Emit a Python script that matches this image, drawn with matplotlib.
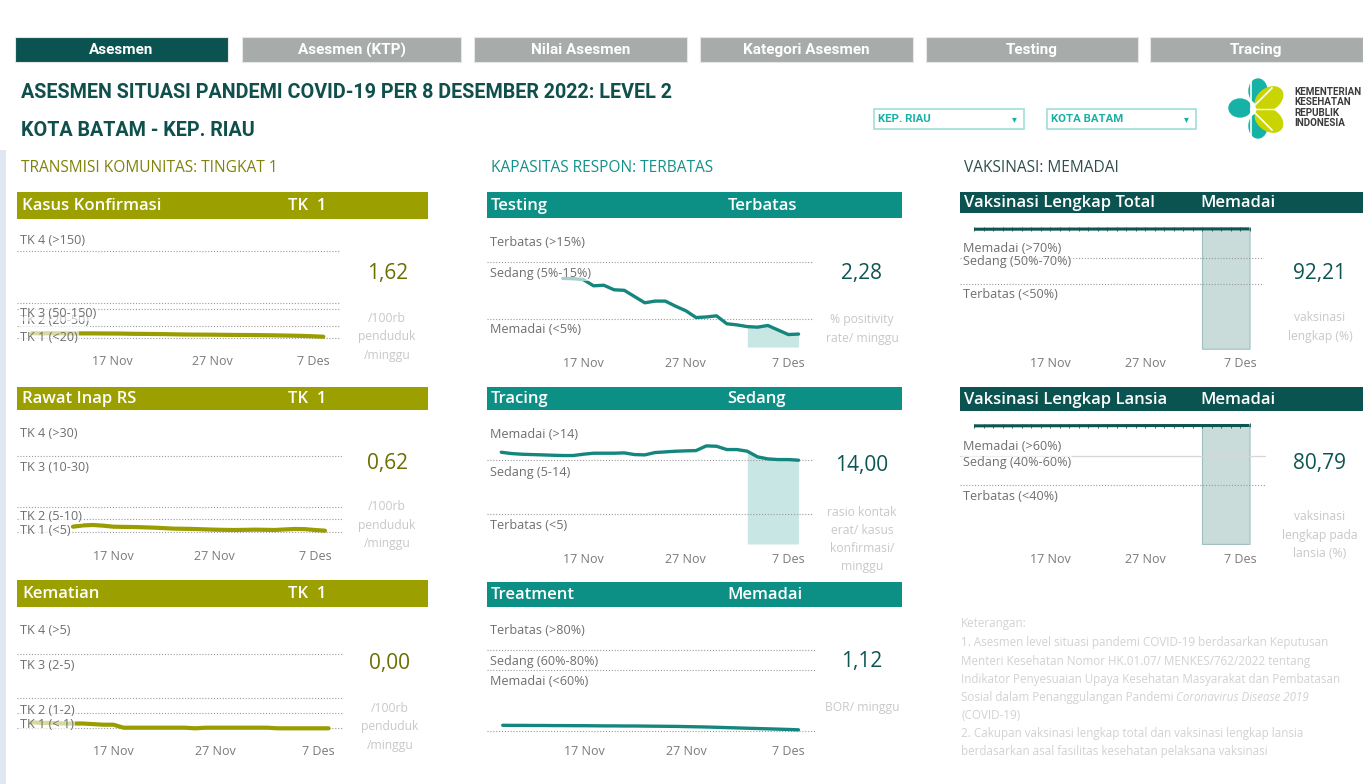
import numpy as np
import matplotlib
matplotlib.use("Agg")
import matplotlib.pyplot as plt
from matplotlib.patches import Rectangle, Ellipse

plt.rcParams['font.family'] = ['Open Sans', 'DejaVu Sans']

# ------------------------------------------------------------------ data
tabs = ["Asesmen", "Asesmen (KTP)", "Nilai Asesmen", "Kategori Asesmen", "Testing", "Tracing"]
title = "ASESMEN SITUASI PANDEMI COVID-19 PER 8 DESEMBER 2022: LEVEL 2"
subtitle = "KOTA BATAM - KEP. RIAU"
province = "KEP. RIAU"
city = "KOTA BATAM"
section_titles = ["TRANSMISI KOMUNITAS: TINGKAT 1", "KAPASITAS RESPON: TERBATAS", "VAKSINASI: MEMADAI"]
tick_days = [0, 10, 20]            # days after 17 Nov 2022
tick_labels = ["17 Nov", "27 Nov", "7 Des"]

kasus_days = list(range(-8, 22))
kasus_vals = [3.05, 3.02, 3.04, 3.00, 3.01, 2.98, 2.99, 2.95, 2.93, 2.90, 2.82, 2.78, 2.74, 2.70, 2.62,
              2.55, 2.50, 2.47, 2.45, 2.40, 2.36, 2.33, 2.30, 2.25, 2.20, 2.12, 2.05, 1.95, 1.80, 1.62]

rawat_days = list(range(-4, 22))
rawat_vals = [1.21, 1.40, 1.46, 1.36, 1.21, 1.18, 1.16, 1.12, 1.07, 1.00, 0.92, 0.90, 0.87, 0.82, 0.77,
              0.74, 0.72, 0.74, 0.77, 0.75, 0.72, 0.80, 0.87, 0.85, 0.72, 0.62]

kematian_days = list(range(-8, 22))
kematian_vals = [0.10, 0.09, 0.09, 0.08, 0.08, 0.08, 0.07, 0.06, 0.06, 0.01, 0.01, 0.01, 0.01, 0.01, 0.01,
                 0.01, 0.00, 0.01, 0.01, 0.01, 0.01, 0.01, 0.01, 0.01, 0.00, 0.00, 0.00, 0.00, 0.00, 0.00]

testing_days = list(range(-2, 22))
testing_vals = [12.1, 12.06, 11.9, 10.8, 10.9, 10.1, 10.0, 8.9, 7.8, 8.1, 8.1, 7.2, 6.4, 5.2, 5.3, 5.5,
                4.1, 3.9, 3.6, 3.5, 3.8, 3.0, 2.2, 2.28]

tracing_days = list(range(-8, 22))
tracing_vals = [15.33, 15.11, 15.0, 14.94, 14.89, 14.83, 14.78, 14.78, 15.0, 15.17, 15.17, 15.17, 15.22,
                14.94, 14.89, 15.28, 15.39, 15.5, 15.56, 15.61, 16.39, 16.33, 15.78, 15.78, 15.5, 14.56,
                14.22, 14.11, 14.11, 14.00]

treatment_days = list(range(-8, 22))
treatment_vals = [5.6, 5.5, 5.5, 5.4, 5.4, 5.3, 5.3, 5.2, 5.2, 5.1, 5.0, 5.0, 4.9, 4.9, 4.8, 4.7, 4.6,
                  4.5, 4.3, 4.1, 3.9, 3.6, 3.3, 3.0, 2.7, 2.4, 2.1, 1.8, 1.5, 1.12]

vaks_total_days = list(range(-8, 22))
vaks_total_vals = [91.95, 91.96, 91.97, 91.98, 91.99, 92.00, 92.01, 92.02, 92.03, 92.04, 92.05, 92.06,
                   92.07, 92.08, 92.09, 92.10, 92.11, 92.12, 92.13, 92.14, 92.15, 92.16, 92.17, 92.18,
                   92.18, 92.19, 92.19, 92.20, 92.20, 92.21]

vaks_lansia_days = list(range(-8, 22))
vaks_lansia_vals = [80.55, 80.56, 80.57, 80.58, 80.59, 80.60, 80.61, 80.62, 80.63, 80.64, 80.65, 80.66,
                    80.67, 80.68, 80.69, 80.70, 80.71, 80.72, 80.73, 80.74, 80.74, 80.75, 80.75, 80.76,
                    80.76, 80.77, 80.77, 80.78, 80.78, 80.79]

shade_from_day = 16  # last week highlighted

keterangan_lines = [
    "Keterangan:",
    "1. Asesmen level situasi pandemi COVID-19 berdasarkan Keputusan",
    "Menteri Kesehatan Nomor HK.01.07/ MENKES/762/2022 tentang",
    "Indikator Penyesuaian Upaya Kesehatan Masyarakat dan Pembatasan",
    "Sosial dalam Penanggulangan Pandemi ",
    "(COVID-19)",
    "2. Cakupan vaksinasi lengkap total dan vaksinasi lengkap lansia",
    "berdasarkan asal fasilitas kesehatan pelaksana vaksinasi",
]
keterangan_italic = "Coronavirus Disease 2019"

# ------------------------------------------------------------------ figure helpers
W, H = 1363, 784
fig = plt.figure(figsize=(W / 100, H / 100), dpi=100)
fig.patch.set_facecolor('white')


def fx(x):
    return x / W


def fy(y):
    return 1 - y / H


def rect(x0, y0, x1, y1, **kw):
    fig.add_artist(Rectangle((fx(x0), fy(y1)), (x1 - x0) / W, (y1 - y0) / H,
                             transform=fig.transFigure, **kw))


def ftext(x, y, s, **kw):
    return fig.text(fx(x), fy(y), s, **kw)


OLIVE = '#9b9f00'
TEAL = '#0c8f85'
DARK = '#0b5350'
LABEL_GRAY = '#6f6f6f'
UNIT_GRAY = '#c8c8c8'
COND = ['Roboto', 'DejaVu Sans']

# ------------------------------------------------------------------ top area
rect(0, 150, 6, 784, color='#dfe7f2', lw=0)

tab_boxes = [(15, 228), (242, 461), (474, 687), (700, 913), (926, 1138), (1150, 1363)]
for i, (lab, (a, b)) in enumerate(zip(tabs, tab_boxes)):
    rect(a, 37, b, 62, facecolor=DARK if i == 0 else '#a7abaa', edgecolor='#e6e6e6', lw=0.8)
    ftext((a + b) / 2, 50, lab, ha='center', va='center', color='white',
          fontsize=11, fontweight='bold', family=COND)

ftext(21, 93, title, ha='left', va='center', color='#0f4f4c', fontsize=14.2,
      fontweight='bold', family=COND)
ftext(21, 130, subtitle, ha='left', va='center', color='#0f4f4c', fontsize=14.2,
      fontweight='bold', family=COND)

for (a, b), txt in zip([(874, 1024), (1047, 1196)], [province, city]):
    rect(a, 109, b, 129, facecolor='white', edgecolor='#9fded9', lw=1.2)
    ftext(a + 4, 119.3, txt, ha='left', va='center', color='#18b0a5', fontsize=8.2,
          fontweight='bold', family=COND)
    ftext(b - 10, 119, '\u25BE', ha='center', va='center', color='#18b0a5', fontsize=7,
          family=['DejaVu Sans'])

# logo
lax = fig.add_axes([fx(1225), fy(142), 65 / W, 67 / H])
lax.set_xlim(1225, 1290)
lax.set_ylim(142, 75)
lax.axis('off')
LT, LY = '#17b2a6', '#c9d400'
lax.add_patch(Ellipse((1258, 91), 18, 24, color=LT))
lax.add_patch(Ellipse((1240, 108), 22, 18, color=LT))
lax.add_patch(Ellipse((1258, 126), 18, 24, color=LT))
lax.add_patch(Ellipse((1269, 99), 30, 21, angle=-35, color=LY))
lax.add_patch(Ellipse((1269, 120), 30, 21, angle=35, color=LY))
lax.plot([1251, 1251], [82, 136], color='white', lw=1.2)
lax.plot([1251, 1272], [109, 88], color='white', lw=1.2)
lax.plot([1251, 1272], [109, 130], color='white', lw=1.2)
lax.plot([1251, 1283], [109, 109], color='white', lw=1.0)
for k, w in enumerate(["KEMENTERIAN", "KESEHATAN", "REPUBLIK", "INDONESIA"]):
    ftext(1294, 92 + k * 10.3, w, ha='left', va='center', color='#3b3b3b', fontsize=7.1,
          fontweight='bold', family=COND)

# section titles
ftext(21, 168, section_titles[0], ha='left', va='center', color='#80820a', fontsize=11.2)
ftext(491, 168, section_titles[1], ha='left', va='center', color='#13918a', fontsize=11.2)
ftext(964, 168, section_titles[2], ha='left', va='center', color='#2f4f4e', fontsize=11.2)

# ------------------------------------------------------------------ panel headers
headers = [
    (17, 192, 428, 219, "Kasus Konfirmasi", "TK  1", 288, OLIVE, 22),
    (17, 387, 428, 410, "Rawat Inap RS", "TK  1", 288, OLIVE, 22),
    (17, 580, 428, 607, "Kematian", "TK  1", 288, OLIVE, 22),
    (487, 192, 902, 218, "Testing", "Terbatas", 728, TEAL, 491),
    (487, 387, 902, 410, "Tracing", "Sedang", 727, TEAL, 491),
    (487, 582, 902, 607, "Treatment", "Memadai", 727, TEAL, 491),
    (960, 192, 1363, 213, "Vaksinasi Lengkap Total", "Memadai", 1200, DARK, 964),
    (960, 387, 1363, 411, "Vaksinasi Lengkap Lansia", "Memadai", 1200, DARK, 964),
]
for x0, y0, x1, y1, t1, t2, sx, col, tx in headers:
    rect(x0, y0, x1, y1, color=col, lw=0)
    yc = (y0 + y1) / 2 + 0.5
    ftext(tx, yc, t1, ha='left', va='center', color='white', fontsize=12, fontweight='semibold')
    ftext(sx, yc, t2, ha='left', va='center', color='white', fontsize=12, fontweight='semibold')

# ------------------------------------------------------------------ charts
panels = [
    dict(days=kasus_days, vals=kasus_vals, box=(17, 226, 340, 348), day0=112.3, ppd=10.05,
         ylim=(-3, 47), refpx=[250.7, 302.7, 309, 326, 338],
         labels=[("TK 4 (>150)", 240), ("TK 2 (20-50)", 321), ("TK 3 (50-150)", 313.5), ("TK 1 (<20)", 337.5)],
         lx=20, color='#9a9d00', lw=3.0, kind='left', tick_y=362,
         value="1,62", vpos=(388, 273), vcol='#6b6e00', units=["/100rb", "penduduk", "/minggu"],
         upos=(387, 318.5)),
    dict(days=rawat_days, vals=rawat_vals, box=(17, 420, 342, 545), day0=113.3, ppd=10.08,
         ylim=(-1.5, 17), refpx=[455.7, 506.7, 519.3, 532.3],
         labels=[("TK 4 (>30)", 433.3), ("TK 3 (10-30)", 467.3), ("TK 2 (5-10)", 516.7), ("TK 1 (<5)", 530)],
         lx=20, color='#9a9d00', lw=3.0, kind='left', tick_y=556.7,
         value="0,62", vpos=(388, 463.5), vcol='#6b6e00', units=["/100rb", "penduduk", "/minggu"],
         upos=(387, 507)),
    dict(days=kematian_days, vals=kematian_vals, box=(17, 620, 344, 740), day0=113.3, ppd=10.25,
         ylim=(-0.195, 1.805), refpx=[654, 698.3, 712.7, 728.3],
         labels=[("TK 4 (>5)", 630), ("TK 3 (2-5)", 665.7), ("TK 2 (1-2)", 710), ("TK 1 (< 1)", 725)],
         lx=20, color='#9a9d00', lw=3.0, kind='left', tick_y=752.3,
         value="0,00", vpos=(389, 663), vcol='#6b6e00', units=["/100rb", "penduduk", "/minggu"],
         upos=(390, 708.5)),
    dict(days=testing_days, vals=testing_vals, box=(487, 228, 813, 347), day0=583.3, ppd=10.25,
         ylim=(0, 21), refvals=[15, 5],
         labels=[("Terbatas (>15%)", 243), ("Sedang (5%-15%)", 274), ("Memadai (<5%)", 330)],
         lx=490, color='#14867e', lw=2.4, kind='mid', tick_y=364.3,
         value="2,28", vpos=(861, 273.5), vcol='#0d5552', units=["% positivity", "rate/ minggu"],
         upos=(862, 320)),
    dict(days=tracing_days, vals=tracing_vals, box=(487, 424.3, 813, 544), day0=583.3, ppd=10.25,
         ylim=(0, 20), refvals=[14, 5],
         labels=[("Memadai (>14)", 435), ("Sedang (5-14)", 472.3), ("Terbatas (<5)", 525.7)],
         lx=490, color='#14867e', lw=2.4, kind='mid', tick_y=560,
         value="14,00", vpos=(862, 465), vcol='#0d5552',
         units=["rasio kontak", "erat/ kasus", "konfirmasi/", "minggu"], upos=(862, 512)),
    dict(days=treatment_days, vals=treatment_vals, box=(487, 618, 816, 740), day0=584.3, ppd=10.2,
         ylim=(-8.9, 111.3), refvals=[80, 60, 0],
         labels=[("Terbatas (>80%)", 630), ("Sedang (60%-80%)", 661.7), ("Memadai (<60%)", 681.7)],
         lx=490, color='#14867e', lw=2.4, kind='mid-noshade', tick_y=751.7,
         value="1,12", vpos=(862, 661), vcol='#0d5552', units=["BOR/ minggu"], upos=(862, 707)),
    dict(days=vaks_total_days, vals=vaks_total_vals, box=(960, 222, 1264, 348.7), day0=1050, ppd=9.5,
         ylim=(0, 97.5), refvals=[70, 50], refstyles=['dot', 'dot'],
         labels=[("Memadai (>70%)", 248.3), ("Sedang (50%-70%)", 261.7), ("Terbatas (<50%)", 295)],
         lx=963, color='#0d5552', lw=2.2, kind='vaks', tick_y=364,
         value="92,21", vpos=(1320, 273), vcol='#0d5552', units=["vaksinasi", "lengkap (%)"],
         upos=(1320, 318)),
    dict(days=vaks_lansia_days, vals=vaks_lansia_vals, box=(960, 418, 1266, 543.9), day0=1050, ppd=9.5,
         ylim=(0, 85.9), refvals=[60, 40], refstyles=['solid', 'dot'],
         labels=[("Memadai (>60%)", 446.7), ("Sedang (40%-60%)", 462.7), ("Terbatas (<40%)", 496.7)],
         lx=963, color='#0d5552', lw=2.2, kind='vaks', tick_y=560,
         value="80,79", vpos=(1320, 464), vcol='#0d5552',
         units=["vaksinasi", "lengkap pada", "lansia (%)"], upos=(1320, 517)),
]

for p in panels:
    x0, y0, x1, y1 = p['box']
    ax = fig.add_axes([fx(x0), fy(y1), (x1 - x0) / W, (y1 - y0) / H])
    ax.set_facecolor('none')
    for s in ax.spines.values():
        s.set_visible(False)
    ax.set_xlim((x0 - p['day0']) / p['ppd'], (x1 - p['day0']) / p['ppd'])
    ylo, yhi = p['ylim']
    ax.set_ylim(ylo, yhi)
    ax.set_yticks([])
    ax.set_xticks(tick_days)
    ax.set_xticklabels(tick_labels, color='#7a7a7a', fontsize=9)
    ax.tick_params(axis='x', length=0, pad=(p['tick_y'] - y1 - 7) * 0.72)

    dot = dict(color='#9a9a9a', lw=0.8, linestyle=(0, (1, 1.6)), zorder=2)
    if 'refpx' in p:
        for rp in p['refpx']:
            v = ylo + (y1 - rp) / (y1 - y0) * (yhi - ylo)
            ax.axhline(v, **dot)
    else:
        styles = p.get('refstyles', ['dot'] * len(p['refvals']))
        for v, st in zip(p['refvals'], styles):
            if st == 'solid':
                ax.axhline(v, color='#d6d6d6', lw=0.9, zorder=2)
            else:
                ax.axhline(v, **dot)

    d = np.array(p['days'], dtype=float)
    v = np.array(p['vals'], dtype=float)
    m = d >= shade_from_day
    if p['kind'] == 'mid':
        ax.fill_between(d[m], ylo, v[m], color='#c8e6e3', lw=0, zorder=1)
    elif p['kind'] == 'vaks':
        ax.fill_between(d[m], 0, v[m], facecolor='#c9dcda', edgecolor='#9fbfbc', lw=0.8, zorder=1)

    if p['kind'] == 'vaks':
        ax.plot(d, v, color=p['color'], lw=p['lw'], marker='|', ms=3.2, mew=0.6, zorder=3,
                solid_capstyle='butt')
    else:
        ax.plot(d, v, color=p['color'], lw=p['lw'], zorder=3, solid_capstyle='round',
                solid_joinstyle='round')

    for txt, ly in p['labels']:
        ax.text((p['lx'] - x0) / (x1 - x0), (y1 - ly) / (y1 - y0), txt, transform=ax.transAxes,
                ha='left', va='center', color=LABEL_GRAY, fontsize=9.1, zorder=5,
                bbox=dict(boxstyle='square,pad=0.06', fc='white', ec='none', alpha=0.62))

    ftext(p['vpos'][0], p['vpos'][1], p['value'], ha='center', va='center', color=p['vcol'],
          fontsize=15)
    ux, uy = p['upos']
    for k, u in enumerate(p['units']):
        ftext(ux, uy + k * 18.3, u, ha='center', va='center', color=UNIT_GRAY, fontsize=8.7)

# ------------------------------------------------------------------ notes
KCOL = '#d2d2d2'
ky = [624, 642.5, 661, 679.3, 697.5, 715.5, 733.5, 751.7]
for k, line in enumerate(keterangan_lines):
    t = ftext(961, ky[k], line, ha='left', va='center', color=KCOL, fontsize=8.4)
    if k == 4:
        fig.canvas.draw()
        bb = t.get_window_extent()
        fig.text(bb.x1 / fig.bbox.width, fy(ky[k]), keterangan_italic, ha='left', va='center',
                 color=KCOL, fontsize=8.4, style='italic')

fig.savefig('out.png', dpi=100, facecolor='white')
